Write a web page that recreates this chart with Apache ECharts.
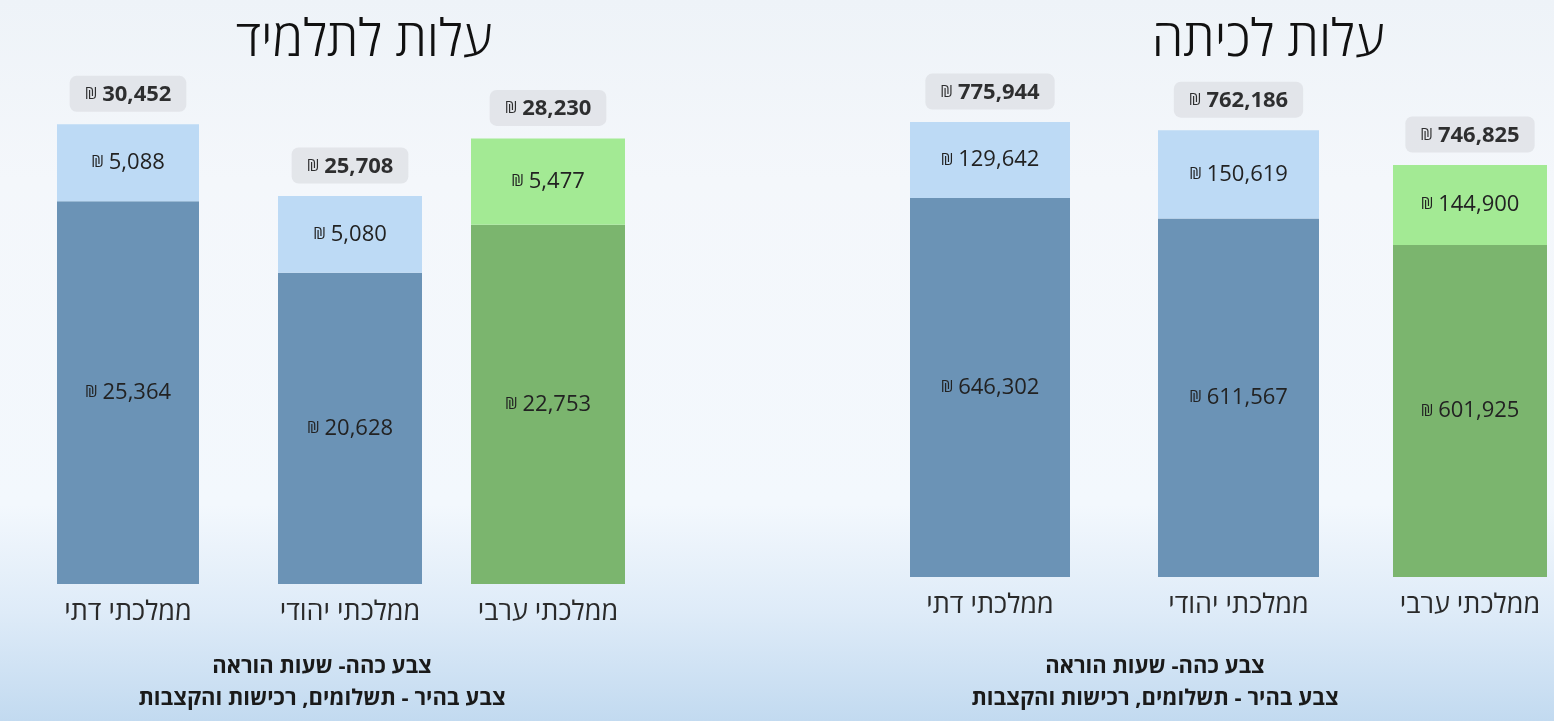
<!DOCTYPE html>
<html>
<head>
<meta charset="utf-8">
<script src="https://cdn.jsdelivr.net/npm/echarts@6/dist/echarts.min.js"></script>
<style>
  html, body { margin: 0; padding: 0; }
  #chart { width: 1554px; height: 721px; }
</style>
</head>
<body>
<div id="chart"></div>
<script>
// values
const categories = ['ממלכתי דתי', 'ממלכתי יהודי', 'ממלכתי ערבי'];
const studentTeaching = [25364, 20628, 22753];
const studentOther = [5088, 5080, 5477];
const studentTotal = [30452, 25708, 28230];
const classTeaching = [646302, 611567, 601925];
const classOther = [129642, 150619, 144900];
const classTotal = [775944, 762186, 746825];

const FONT = '"Open Sans", "Liberation Sans", "DejaVu Sans", sans-serif';
const DARK = ['#6b93b6', '#6b93b6', '#7bb56e'];
const LIGHT = ['#bddaf5', '#bddaf5', '#a3ea94'];

// each bar sits in its own grid, like the separate charts of the original slide
const panels = [
    {
        top: 101, bottom: 137,
        teaching: studentTeaching, other: studentOther, total: studentTotal,
        bars: [
            { left: 57, width: 142, max: 32000 },
            { left: 278, width: 144, max: 32000 },
            { left: 471, width: 154, max: 30600 }
        ]
    },
    {
        top: 108, bottom: 144,
        teaching: classTeaching, other: classOther, total: classTotal,
        bars: [
            { left: 910, width: 160, max: 800000 },
            { left: 1158, width: 161, max: 800000 },
            { left: 1393, width: 154, max: 850000 }
        ]
    }
];

const fmt = v => v.toLocaleString('en-US');
const valueRich = {
    s: { fontFamily: FONT, fontSize: 16, color: '#222' },
    v: { fontFamily: FONT, fontSize: 22, color: '#222' }
};
const totalRich = {
    s: { fontFamily: FONT, fontSize: 16, color: '#000' },
    v: { fontFamily: FONT, fontSize: 22, fontWeight: 'bold', color: '#000' }
};

const grid = [], xAxis = [], yAxis = [], series = [];
let g = 0;
panels.forEach(p => {
    p.bars.forEach((b, i) => {
        grid.push({ left: b.left, width: b.width, top: p.top, bottom: p.bottom });
        xAxis.push({
            type: 'category', gridIndex: g, data: [categories[i]],
            axisLine: { show: false }, axisTick: { show: false },
            axisLabel: { fontFamily: FONT, fontSize: 27, color: '#2a2a2a', margin: 15 }
        });
        yAxis.push({ type: 'value', gridIndex: g, min: 0, max: b.max, show: false, splitLine: { show: false } });
        series.push({
            type: 'bar', xAxisIndex: g, yAxisIndex: g, stack: 's' + g, barWidth: '100%',
            data: [p.teaching[i]], itemStyle: { color: DARK[i] }, silent: true,
            label: { show: true, position: 'inside', fontSize: 18, formatter: c => '{s|₪} {v|' + fmt(c.value) + '}', rich: valueRich }
        });
        series.push({
            type: 'bar', xAxisIndex: g, yAxisIndex: g, stack: 's' + g, barWidth: '100%',
            data: [p.other[i]], itemStyle: { color: LIGHT[i] }, silent: true,
            label: { show: true, position: 'inside', fontSize: 18, formatter: c => '{s|₪} {v|' + fmt(c.value) + '}', rich: valueRich }
        });
        series.push({
            type: 'scatter', xAxisIndex: g, yAxisIndex: g, symbolSize: 1,
            data: [p.total[i]], itemStyle: { color: 'transparent' }, silent: true,
            label: {
                show: true, position: 'top', distance: 12, fontSize: 18,
                formatter: c => '{s|₪} {v|' + fmt(c.value) + '}', rich: totalRich,
                backgroundColor: '#dfe1e6', borderRadius: 7, padding: [8, 15, 6, 15]
            }
        });
        g++;
    });
});

const titleStyle = { font: '300 51px ' + FONT, fill: '#111', textAlign: 'center', textVerticalAlign: 'middle' };
const noteStyle = { font: 'bold 22px ' + FONT, fill: '#1a1a1a', textAlign: 'center', textVerticalAlign: 'middle' };

const chart = echarts.init(document.getElementById('chart'));
chart.setOption({
    animation: false,
    backgroundColor: {
        type: 'linear', x: 0, y: 0, x2: 0, y2: 1,
        colorStops: [
            { offset: 0, color: '#eef3f8' },
            { offset: 0.25, color: '#f4f7fb' },
            { offset: 0.7, color: '#f3f8fd' },
            { offset: 0.85, color: '#deebf8' },
            { offset: 1, color: '#c2daf0' }
        ]
    },
    graphic: [
        { type: 'text', x: 364, y: 41, style: Object.assign({ text: 'עלות לתלמיד' }, titleStyle) },
        { type: 'text', x: 1268, y: 41, style: Object.assign({ text: 'עלות לכיתה' }, titleStyle) },
        { type: 'text', x: 322, y: 667, style: Object.assign({ text: 'צבע כהה- שעות הוראה' }, noteStyle) },
        { type: 'text', x: 322, y: 699, style: Object.assign({ text: 'צבע בהיר - תשלומים, רכישות והקצבות' }, noteStyle) },
        { type: 'text', x: 1155, y: 667, style: Object.assign({ text: 'צבע כהה- שעות הוראה' }, noteStyle) },
        { type: 'text', x: 1155, y: 699, style: Object.assign({ text: 'צבע בהיר - תשלומים, רכישות והקצבות' }, noteStyle) }
    ],
    grid: grid,
    xAxis: xAxis,
    yAxis: yAxis,
    series: series
});
</script>
</body>
</html>
